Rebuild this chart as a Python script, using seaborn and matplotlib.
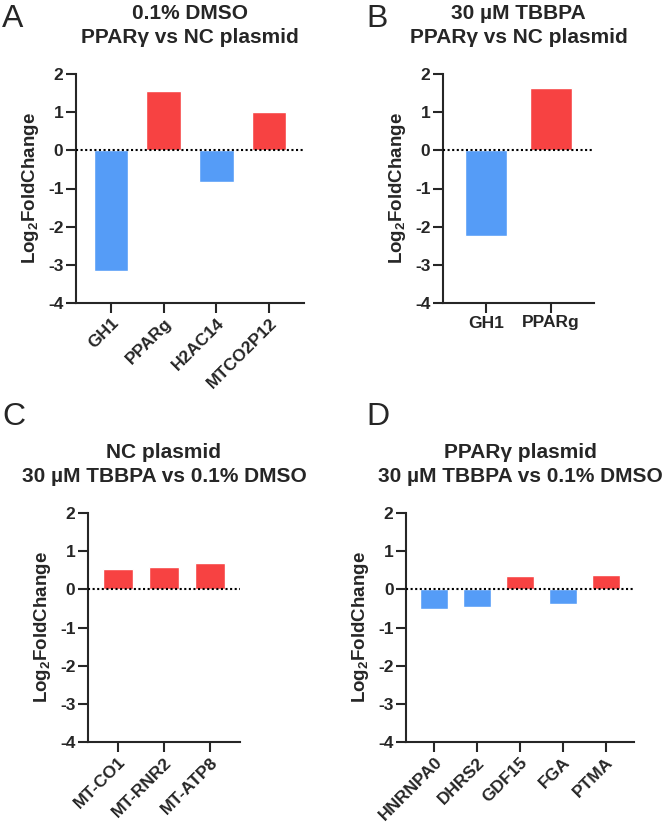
import matplotlib
matplotlib.use("Agg")
import matplotlib.pyplot as plt
import seaborn as sns
import pandas as pd

# values
genes_a = ["GH1", "PPARg", "H2AC14", "MTCO2P12"]
lfc_a = [-3.17, 1.55, -0.83, 1.0]

genes_b = ["GH1", "PPARg"]
lfc_b = [-2.25, 1.64]

genes_c = ["MT-CO1", "MT-RNR2", "MT-ATP8"]
lfc_c = [0.54, 0.59, 0.69]

genes_d = ["HNRNPA0", "DHRS2", "GDF15", "FGA", "PTMA"]
lfc_d = [-0.51, -0.47, 0.36, -0.38, 0.37]

titles = [
    "0.1% DMSO\nPPARγ vs NC plasmid",
    "30 µM TBBPA\nPPARγ vs NC plasmid",
    "NC plasmid\n30 µM TBBPA vs 0.1% DMSO",
    "PPARγ plasmid\n30 µM TBBPA vs 0.1% DMSO",
]
letters = ["A", "B", "C", "D"]

BLUE = "#559CF7"
RED = "#F74242"

sns.set_style("ticks")
plt.rcParams["font.family"] = ["Liberation Sans", "DejaVu Sans"]
plt.rcParams["axes.unicode_minus"] = False
plt.rcParams["mathtext.fontset"] = "custom"
plt.rcParams["mathtext.rm"] = "Liberation Sans:bold"
plt.rcParams["mathtext.bf"] = "Liberation Sans:bold"
plt.rcParams["mathtext.default"] = "bf"

W, H = 669, 826
fig = plt.figure(figsize=(W / 100, H / 100), dpi=100)

# axes boxes in pixels: left, top, right, bottom
boxes = [
    (76, 74, 304, 303),
    (443, 74, 594, 303),
    (88, 513, 240, 742),
    (406, 513, 634, 742),
]
letter_pos = [(2, 4), (366, 4), (2, 402), (366, 402)]

panels = [(genes_a, lfc_a), (genes_b, lfc_b), (genes_c, lfc_c), (genes_d, lfc_d)]

for i, ((genes, vals), (l, t, r, b)) in enumerate(zip(panels, boxes)):
    ax = fig.add_axes([l / W, 1 - b / H, (r - l) / W, (b - t) / H])
    df = pd.DataFrame({"gene": genes, "lfc": vals})
    df["dir"] = ["up" if v > 0 else "down" for v in vals]
    sns.barplot(data=df, x="gene", y="lfc", hue="dir", dodge=False,
                palette={"up": RED, "down": BLUE}, width=0.65,
                saturation=1, legend=False, ax=ax)
    n = len(genes)
    ax.set_xlim(-0.66, n - 1 + 0.66)
    ax.set_ylim(-4, 2)
    ax.set_yticks(range(-4, 3))
    ax.axhline(0, color="black", ls=(0, (1, 1.2)), lw=1.5, zorder=3)
    sns.despine(ax=ax)
    for s in ["left", "bottom"]:
        ax.spines[s].set_linewidth(1.5)
    ax.tick_params(direction="out", length=7, width=1.5, labelsize=12.5, pad=2)
    for lab in ax.get_xticklabels() + ax.get_yticklabels():
        lab.set_fontweight("bold")
    if i != 1:
        plt.setp(ax.get_xticklabels(), rotation=45, ha="right", rotation_mode="anchor")
    ax.set_xlabel("")
    ax.set_ylabel(r"Log$_2$FoldChange", fontsize=13.5, fontweight="bold", labelpad=5)
    ax.set_title(titles[i], fontsize=15, fontweight="bold", pad=22, linespacing=1.35)
    lx, ly = letter_pos[i]
    fig.text(lx / W, 1 - ly / H, letters[i], fontsize=23, va="top", ha="left")

fig.savefig("out.png", dpi=100)
